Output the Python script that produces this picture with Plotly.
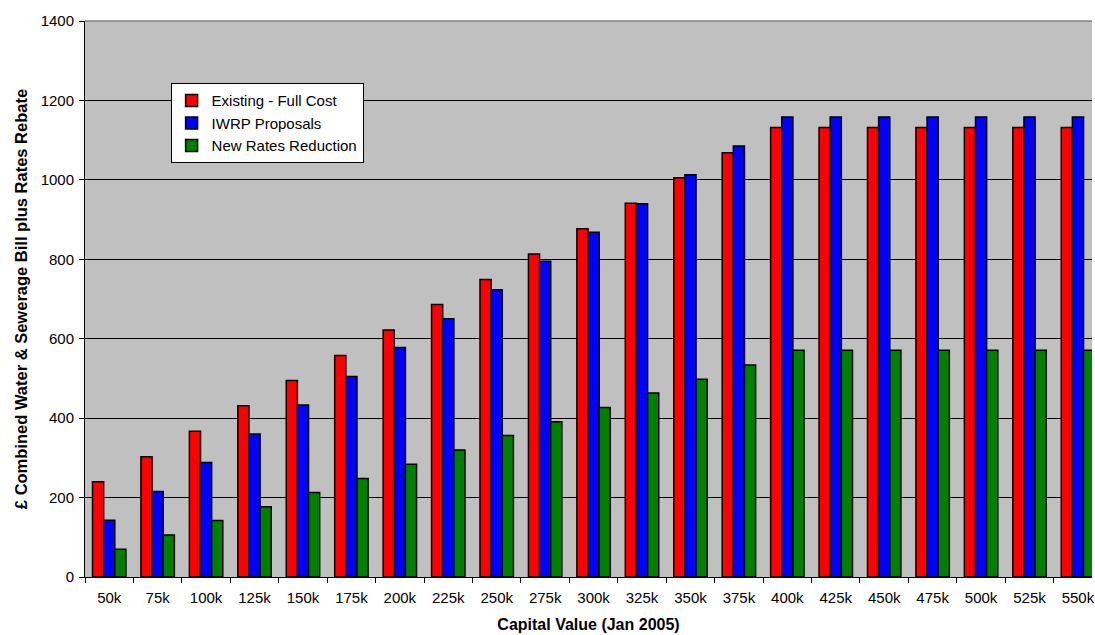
import plotly.graph_objects as go

# Capital value bands (Jan 2005)
categories = ["50k", "75k", "100k", "125k", "150k", "175k", "200k", "225k", "250k",
              "275k", "300k", "325k", "350k", "375k", "400k", "425k", "450k", "475k",
              "500k", "525k", "550k"]

# £ per year for each scenario
existing_full_cost = [240, 303, 367, 431, 495, 558, 622, 686, 749, 813, 877, 941,
                      1005, 1068, 1132, 1132, 1132, 1132, 1132, 1132, 1132]
iwrp_proposals = [143, 215, 288, 360, 433, 505, 578, 650, 723, 795, 868, 940,
                  1013, 1085, 1158, 1158, 1158, 1158, 1158, 1158, 1158]
new_rates_reduction = [70, 106, 142, 177, 213, 248, 284, 320, 356, 391, 427, 463,
                       498, 534, 571, 571, 571, 571, 571, 571, 571]

series = [
    ("Existing - Full Cost", existing_full_cost, "#FF0000"),
    ("IWRP Proposals", iwrp_proposals, "#0000FF"),
    ("New Rates Reduction", new_rates_reduction, "#008000"),
]

FONT = "Liberation Sans, Arial, sans-serif"

fig = go.Figure()
for i, (name, values, colour) in enumerate(series):
    fig.add_trace(go.Bar(
        name=name,
        x=categories,
        y=values,
        marker=dict(color=colour, line=dict(color="#000000", width=1.5)),
        legendgroup=f"g{i}",
    ))

fig.update_layout(
    width=1095,
    height=635,
    margin=dict(l=85, r=0, t=21, b=58),
    paper_bgcolor="#FFFFFF",
    plot_bgcolor="#C0C0C0",
    barmode="group",
    bargap=0.31,
    bargroupgap=0,
    font=dict(family=FONT, size=15, color="#000000"),
    showlegend=True,
    legend=dict(
        x=0.085, y=0.888, xanchor="left", yanchor="top",
        bgcolor="#FFFFFF", bordercolor="#000000", borderwidth=1,
        font=dict(family=FONT, size=15, color="#000000"),
        traceorder="grouped", tracegroupgap=0,
        itemwidth=30,
    ),
    xaxis=dict(
        range=[-0.5, 20.29],
        showgrid=False,
        showline=True, linecolor="#000000", linewidth=1,
        ticks="outside", tickson="boundaries", ticklen=5, tickcolor="#000000",
        tickfont=dict(family=FONT, size=15),
        ticklabelstandoff=7,
        title=dict(text="<b>Capital Value (Jan 2005)</b>",
                   font=dict(family=FONT, size=16), standoff=13),
        fixedrange=True,
    ),
    yaxis=dict(
        range=[0, 1400],
        dtick=200,
        showgrid=True, gridcolor="#000000", gridwidth=1,
        showline=True, linecolor="#000000", linewidth=1,
        ticks="outside", ticklen=5, tickcolor="#000000",
        tickfont=dict(family=FONT, size=15),
        ticklabelstandoff=2,
        zeroline=False,
        title=dict(text="<b>£ Combined Water & Sewerage Bill plus Rates Rebate</b>",
                   font=dict(family=FONT, size=16.5), standoff=8),
        fixedrange=True,
    ),
)

# grey frame line along the top of the plot area
fig.add_shape(type="line", xref="paper", yref="paper", x0=0, x1=1, y0=1, y1=1,
              line=dict(color="#808080", width=1.5))

fig.write_html("out.html")
